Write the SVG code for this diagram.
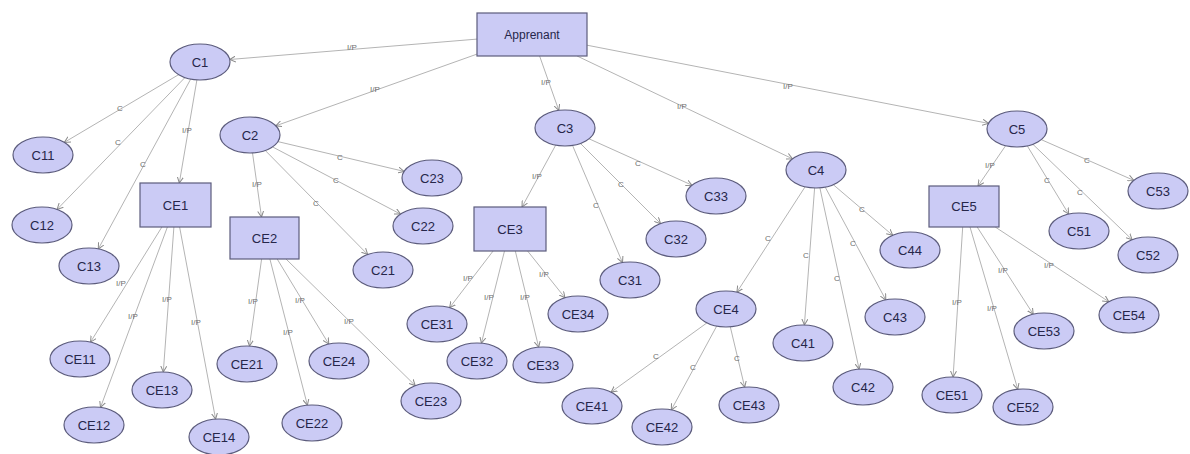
<svg xmlns="http://www.w3.org/2000/svg" width="1190" height="454" viewBox="0 0 1190 454">
<defs>
<marker id="arr" markerWidth="7" markerHeight="7" refX="6" refY="3.5" orient="auto" markerUnits="userSpaceOnUse">
<path d="M0,0.5 L6,3.5 L0,6.5" fill="none" stroke="#8a8a8a" stroke-width="1"/>
</marker>
<style>
.e{stroke:#b4b4b4;stroke-width:1;fill:none;marker-end:url(#arr)}
.el{font-family:"Liberation Sans",Arial,sans-serif;font-size:8px;fill:#6e6e6e;text-anchor:middle;dominant-baseline:central}
.n ellipse,.n rect{fill:#cbcbf5;stroke:#5c5c7c;stroke-width:1.2}
.n text{font-family:"Liberation Sans",Arial,sans-serif;font-size:13px;fill:#26264a;text-anchor:middle;dominant-baseline:central}
</style>
</defs>
<rect width="1190" height="454" fill="#ffffff"/>
<g id="connectors">
<line class="e" x1="477" y1="39.1" x2="229.7" y2="59.5"/><text class="el" x="352" y="47">I/P</text>
<line class="e" x1="477" y1="54.1" x2="275.8" y2="125.8"/><text class="el" x="375" y="89">I/P</text>
<line class="e" x1="539.6" y1="56" x2="558.8" y2="110.4"/><text class="el" x="546" y="82">I/P</text>
<line class="e" x1="577.1" y1="56" x2="792.5" y2="158.8"/><text class="el" x="682" y="106">I/P</text>
<line class="e" x1="587" y1="45.2" x2="988.5" y2="123.4"/><text class="el" x="788" y="86">I/P</text>
<line class="e" x1="178.7" y1="74.6" x2="64.3" y2="142.4"/><text class="el" x="120" y="108">C</text>
<line class="e" x1="184.9" y1="77.6" x2="57.1" y2="209.4"/><text class="el" x="118" y="142">C</text>
<line class="e" x1="190.7" y1="79.1" x2="98.3" y2="248.9"/><text class="el" x="143" y="164">C</text>
<line class="e" x1="196.9" y1="79.9" x2="179.3" y2="183"/><text class="el" x="187" y="130">I/P</text>
<line class="e" x1="161.9" y1="227" x2="90.5" y2="342.1"/><text class="el" x="121" y="283">I/P</text>
<line class="e" x1="167.4" y1="227" x2="100.5" y2="407.4"/><text class="el" x="133" y="316">I/P</text>
<line class="e" x1="173.9" y1="227" x2="163.3" y2="372"/><text class="el" x="167" y="299">I/P</text>
<line class="e" x1="179.6" y1="227" x2="215.6" y2="419.1"/><text class="el" x="196" y="322">I/P</text>
<line class="e" x1="252.5" y1="152.9" x2="261.5" y2="217"/><text class="el" x="257" y="184">I/P</text>
<line class="e" x1="277.9" y1="141.6" x2="404.1" y2="171.4"/><text class="el" x="340" y="157">C</text>
<line class="e" x1="272.5" y1="146.9" x2="400.5" y2="214.1"/><text class="el" x="336" y="180">C</text>
<line class="e" x1="265.3" y1="150.5" x2="367.7" y2="254.5"/><text class="el" x="316" y="203">C</text>
<line class="e" x1="261.6" y1="259" x2="249.5" y2="346.1"/><text class="el" x="253" y="301">I/P</text>
<line class="e" x1="269.9" y1="259" x2="307.4" y2="405.2"/><text class="el" x="288" y="332">I/P</text>
<line class="e" x1="277.2" y1="259" x2="328.8" y2="344.1"/><text class="el" x="300" y="300">I/P</text>
<line class="e" x1="286" y1="259" x2="415.3" y2="385.6"/><text class="el" x="349" y="321">I/P</text>
<line class="e" x1="555.7" y1="145.1" x2="522" y2="207"/><text class="el" x="537" y="176">I/P</text>
<line class="e" x1="572.5" y1="145.4" x2="622.5" y2="262.6"/><text class="el" x="596" y="205">C</text>
<line class="e" x1="580.4" y1="143.4" x2="660.6" y2="223.6"/><text class="el" x="621" y="184">C</text>
<line class="e" x1="589" y1="138.8" x2="692" y2="185.2"/><text class="el" x="638" y="163">C</text>
<line class="e" x1="493.1" y1="251" x2="449.6" y2="307.7"/><text class="el" x="468" y="278">I/P</text>
<line class="e" x1="504.5" y1="251" x2="481.4" y2="343.2"/><text class="el" x="489" y="297">I/P</text>
<line class="e" x1="515.3" y1="251" x2="538.7" y2="347.2"/><text class="el" x="525" y="297">I/P</text>
<line class="e" x1="527.6" y1="251" x2="565" y2="297.8"/><text class="el" x="544" y="274">I/P</text>
<line class="e" x1="805.1" y1="186.8" x2="736.9" y2="292.2"/><text class="el" x="768" y="238">C</text>
<line class="e" x1="814.6" y1="188" x2="804.4" y2="325"/><text class="el" x="806" y="255">C</text>
<line class="e" x1="819.9" y1="187.9" x2="859.1" y2="369.1"/><text class="el" x="837" y="278">C</text>
<line class="e" x1="825.2" y1="187.1" x2="885.8" y2="299.9"/><text class="el" x="853" y="243">C</text>
<line class="e" x1="833.3" y1="184.7" x2="892.7" y2="235.3"/><text class="el" x="862" y="209">C</text>
<line class="e" x1="706.9" y1="322.9" x2="611.1" y2="392.1"/><text class="el" x="656" y="356">C</text>
<line class="e" x1="716.7" y1="326.1" x2="671.3" y2="409.9"/><text class="el" x="693" y="367">C</text>
<line class="e" x1="730.3" y1="326.8" x2="744.7" y2="387.2"/><text class="el" x="737" y="358">C</text>
<line class="e" x1="1005.6" y1="145.7" x2="978" y2="186"/><text class="el" x="990" y="165">I/P</text>
<line class="e" x1="1027.3" y1="145.9" x2="1068.7" y2="214.1"/><text class="el" x="1047" y="180">C</text>
<line class="e" x1="1032.9" y1="144.3" x2="1132.1" y2="239.7"/><text class="el" x="1080" y="192">C</text>
<line class="e" x1="1041.2" y1="139.6" x2="1133.8" y2="180.4"/><text class="el" x="1087" y="160">C</text>
<line class="e" x1="962.7" y1="227" x2="953.1" y2="377"/><text class="el" x="957" y="302">I/P</text>
<line class="e" x1="970" y1="227" x2="1017.8" y2="389.3"/><text class="el" x="992" y="308">I/P</text>
<line class="e" x1="977.2" y1="227" x2="1033.2" y2="314.2"/><text class="el" x="1003" y="270">I/P</text>
<line class="e" x1="995.2" y1="227" x2="1108.8" y2="301.7"/><text class="el" x="1049" y="265">I/P</text>
</g>
<g id="Apprenant" class="n"><rect x="477" y="13" width="110" height="43"/><text x="532" y="35" style="font-size:12px">Apprenant</text></g>
<g id="C1" class="n"><ellipse cx="200" cy="62" rx="30" ry="18"/><text x="200" y="62">C1</text></g>
<g id="C11" class="n"><ellipse cx="43" cy="155" rx="30" ry="18"/><text x="43" y="155">C11</text></g>
<g id="C12" class="n"><ellipse cx="42" cy="225" rx="30" ry="18"/><text x="42" y="225">C12</text></g>
<g id="C13" class="n"><ellipse cx="89" cy="266" rx="30" ry="18"/><text x="89" y="266">C13</text></g>
<g id="CE1" class="n"><rect x="140" y="183" width="71" height="44"/><text x="175.5" y="205">CE1</text></g>
<g id="CE11" class="n"><ellipse cx="80" cy="359" rx="30" ry="18"/><text x="80" y="359">CE11</text></g>
<g id="CE12" class="n"><ellipse cx="94" cy="425" rx="30" ry="18"/><text x="94" y="425">CE12</text></g>
<g id="CE13" class="n"><ellipse cx="162" cy="390" rx="30" ry="18"/><text x="162" y="390">CE13</text></g>
<g id="CE14" class="n"><ellipse cx="219" cy="437" rx="30" ry="18"/><text x="219" y="437">CE14</text></g>
<g id="C2" class="n"><ellipse cx="250" cy="135" rx="30" ry="18"/><text x="250" y="135">C2</text></g>
<g id="CE2" class="n"><rect x="230" y="217" width="69" height="42"/><text x="264.5" y="238">CE2</text></g>
<g id="C21" class="n"><ellipse cx="383" cy="270" rx="30" ry="18"/><text x="383" y="270">C21</text></g>
<g id="C22" class="n"><ellipse cx="423" cy="226" rx="30" ry="18"/><text x="423" y="226">C22</text></g>
<g id="C23" class="n"><ellipse cx="432" cy="178" rx="30" ry="18"/><text x="432" y="178">C23</text></g>
<g id="CE21" class="n"><ellipse cx="247" cy="364" rx="30" ry="18"/><text x="247" y="364">CE21</text></g>
<g id="CE22" class="n"><ellipse cx="312" cy="423" rx="30" ry="18"/><text x="312" y="423">CE22</text></g>
<g id="CE23" class="n"><ellipse cx="431" cy="401" rx="30" ry="18"/><text x="431" y="401">CE23</text></g>
<g id="CE24" class="n"><ellipse cx="339" cy="361" rx="30" ry="18"/><text x="339" y="361">CE24</text></g>
<g id="C3" class="n"><ellipse cx="565" cy="128" rx="30" ry="18"/><text x="565" y="128">C3</text></g>
<g id="CE3" class="n"><rect x="474" y="207" width="72" height="44"/><text x="510" y="229">CE3</text></g>
<g id="C31" class="n"><ellipse cx="630" cy="280" rx="30" ry="18"/><text x="630" y="280">C31</text></g>
<g id="C32" class="n"><ellipse cx="676" cy="239" rx="30" ry="18"/><text x="676" y="239">C32</text></g>
<g id="C33" class="n"><ellipse cx="716" cy="196" rx="30" ry="18"/><text x="716" y="196">C33</text></g>
<g id="CE31" class="n"><ellipse cx="437" cy="324" rx="30" ry="18"/><text x="437" y="324">CE31</text></g>
<g id="CE32" class="n"><ellipse cx="477" cy="361" rx="30" ry="18"/><text x="477" y="361">CE32</text></g>
<g id="CE33" class="n"><ellipse cx="543" cy="365" rx="30" ry="18"/><text x="543" y="365">CE33</text></g>
<g id="CE34" class="n"><ellipse cx="578" cy="314" rx="30" ry="18"/><text x="578" y="314">CE34</text></g>
<g id="C4" class="n"><ellipse cx="816" cy="170" rx="30" ry="18"/><text x="816" y="170">C4</text></g>
<g id="CE4" class="n"><ellipse cx="726" cy="309" rx="30" ry="18"/><text x="726" y="309">CE4</text></g>
<g id="C41" class="n"><ellipse cx="803" cy="343" rx="30" ry="18"/><text x="803" y="343">C41</text></g>
<g id="C42" class="n"><ellipse cx="863" cy="387" rx="30" ry="18"/><text x="863" y="387">C42</text></g>
<g id="C43" class="n"><ellipse cx="895" cy="317" rx="30" ry="18"/><text x="895" y="317">C43</text></g>
<g id="C44" class="n"><ellipse cx="910" cy="250" rx="30" ry="18"/><text x="910" y="250">C44</text></g>
<g id="CE41" class="n"><ellipse cx="592" cy="406" rx="30" ry="18"/><text x="592" y="406">CE41</text></g>
<g id="CE42" class="n"><ellipse cx="662" cy="427" rx="30" ry="18"/><text x="662" y="427">CE42</text></g>
<g id="CE43" class="n"><ellipse cx="749" cy="405" rx="30" ry="18"/><text x="749" y="405">CE43</text></g>
<g id="C5" class="n"><ellipse cx="1017" cy="129" rx="30" ry="18"/><text x="1017" y="129">C5</text></g>
<g id="CE5" class="n"><rect x="929" y="186" width="70" height="41"/><text x="964" y="206.5">CE5</text></g>
<g id="C51" class="n"><ellipse cx="1079" cy="231" rx="30" ry="18"/><text x="1079" y="231">C51</text></g>
<g id="C52" class="n"><ellipse cx="1148" cy="255" rx="30" ry="18"/><text x="1148" y="255">C52</text></g>
<g id="C53" class="n"><ellipse cx="1158" cy="191" rx="30" ry="18"/><text x="1158" y="191">C53</text></g>
<g id="CE51" class="n"><ellipse cx="952" cy="395" rx="30" ry="18"/><text x="952" y="395">CE51</text></g>
<g id="CE52" class="n"><ellipse cx="1023" cy="407" rx="30" ry="18"/><text x="1023" y="407">CE52</text></g>
<g id="CE53" class="n"><ellipse cx="1044" cy="331" rx="30" ry="18"/><text x="1044" y="331">CE53</text></g>
<g id="CE54" class="n"><ellipse cx="1129" cy="315" rx="30" ry="18"/><text x="1129" y="315">CE54</text></g>
</svg>
